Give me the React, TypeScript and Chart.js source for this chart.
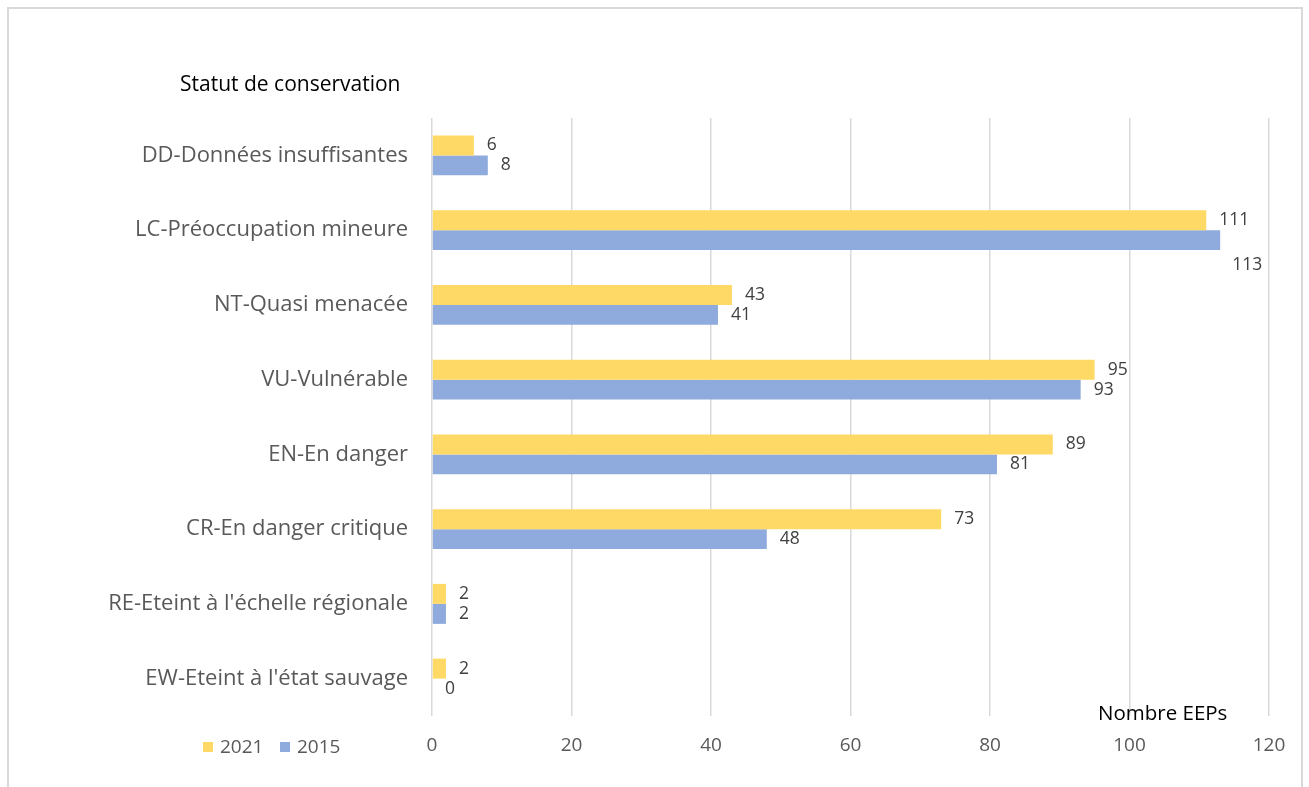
import React, { useEffect, useRef } from "react";
import { Chart, registerables } from "chart.js";

Chart.register(...registerables);

const categories = [
  "DD-Données insuffisantes",
  "LC-Préoccupation mineure",
  "NT-Quasi menacée",
  "VU-Vulnérable",
  "EN-En danger",
  "CR-En danger critique",
  "RE-Eteint à l'échelle régionale",
  "EW-Eteint à l'état sauvage",
];
const values2021 = [6, 111, 43, 95, 89, 73, 2, 2];
const values2015 = [8, 113, 41, 93, 81, 48, 2, 0];
const seriesNames = ["2021", "2015"];
const xTicks = [0, 20, 40, 60, 80, 100, 120];

const FONT = "'Open Sans', sans-serif";
const YELLOW = "#FFD966";
const BLUE = "#8FAADC";

const extrasPlugin = {
  id: "extras",
  afterDatasetsDraw(chart: any) {
    const ctx = chart.ctx;
    ctx.save();
    // data labels
    ctx.font = `17.5px ${FONT}`;
    ctx.fillStyle = "#404040";
    ctx.textAlign = "left";
    ctx.textBaseline = "middle";
    chart.data.datasets.forEach((ds: any, di: number) => {
      const meta = chart.getDatasetMeta(di);
      meta.data.forEach((bar: any, i: number) => {
        let y = bar.y;
        let x = bar.x + 13;
        // Excel moved this label below its bar
        if (di === 1 && i === 1) {
          y = bar.y + 25;
          x = bar.x + 12;
        }
        ctx.fillText(String(ds.data[i]), x, y);
      });
    });
    // axis titles
    ctx.fillStyle = "#000000";
    ctx.font = `21px ${FONT}`;
    ctx.fillText("Statut de conservation", 180, 85);
    ctx.font = `20.5px ${FONT}`;
    ctx.fillText("Nombre EEPs", 1098, 714);
    // legend
    const legendItems = [
      { label: seriesNames[0], color: YELLOW, x: 203 },
      { label: seriesNames[1], color: BLUE, x: 280 },
    ];
    ctx.font = `19px ${FONT}`;
    legendItems.forEach((it) => {
      ctx.fillStyle = it.color;
      ctx.fillRect(it.x, 742, 10, 10);
      ctx.fillStyle = "#595959";
      ctx.fillText(it.label, it.x + 17, 748);
    });
    ctx.restore();
  },
};

export default function App() {
  const ref = useRef<HTMLCanvasElement>(null);
  useEffect(() => {
    document.body.style.margin = "0";
    const chart = new Chart(ref.current!, {
      type: "bar",
      data: {
        labels: categories,
        datasets: [
          {
            label: seriesNames[0],
            data: values2021,
            backgroundColor: YELLOW,
            categoryPercentage: 0.535,
            barPercentage: 1,
          },
          {
            label: seriesNames[1],
            data: values2015,
            backgroundColor: BLUE,
            categoryPercentage: 0.535,
            barPercentage: 1,
          },
        ],
      },
      options: {
        indexAxis: "y",
        animation: false,
        responsive: false,
        layout: { padding: { left: 0, top: 118, right: 40, bottom: 0 } },
        plugins: {
          legend: { display: false },
          tooltip: { enabled: false },
        },
        scales: {
          x: {
            min: 0,
            max: 120,
            afterBuildTicks: (scale: any) => {
              scale.ticks = xTicks.map((v) => ({ value: v }));
            },
            afterFit: (scale: any) => {
              scale.height = 71;
            },
            grid: { color: "#d9d9d9", lineWidth: 1.5, drawTicks: false },
            border: { display: false },
            ticks: {
              padding: 18,
              color: "#595959",
              font: { family: FONT, size: 19 },
            },
          },
          y: {
            afterFit: (scale: any) => {
              scale.width = 432;
            },
            grid: { display: false, drawTicks: false },
            border: { display: false },
            ticks: {
              padding: 24,
              color: "#595959",
              font: { family: FONT, size: 22 },
            },
          },
        },
      },
      plugins: [extrasPlugin],
    });
    return () => chart.destroy();
  }, []);
  return (
    <div style={{ position: "relative", width: 1309, height: 787, overflow: "hidden", background: "#fff" }}>
      <div
        style={{
          position: "absolute",
          left: 7,
          top: 7,
          width: 1292,
          height: 800,
          border: "2px solid #d9d9d9",
        }}
      />
      <canvas ref={ref} width={1309} height={787} style={{ position: "absolute", left: 0, top: 0 }} />
    </div>
  );
}
